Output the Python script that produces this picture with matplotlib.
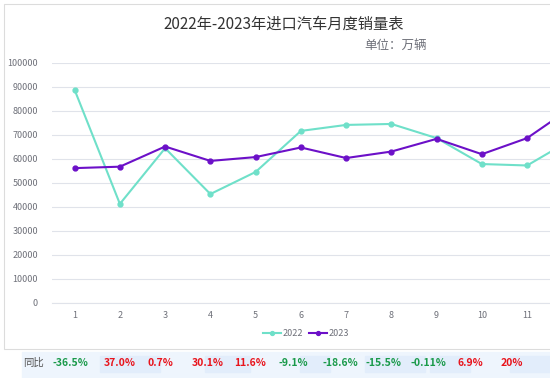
import matplotlib.pyplot as plt
import matplotlib.patches as patches

plt.rcParams['font.family'] = ['Noto Sans CJK SC', 'DejaVu Sans']

months = [1, 2, 3, 4, 5, 6, 7, 8, 9, 10, 11, 12]
sales_2022 = [88800, 41300, 64500, 45400, 54600, 71700, 74200, 74600, 68700, 57900, 57300, 68300]
sales_2023 = [56200, 56800, 65200, 59200, 60800, 64800, 60400, 63100, 68400, 62000, 68700, 81700]
yoy_labels = ['-36.5%', '37.0%', '0.7%', '30.1%', '11.6%', '-9.1%', '-18.6%', '-15.5%', '-0.11%', '6.9%', '20%']
yoy_x = [70, 120, 160, 208, 250, 293, 340, 383, 428, 470, 512]

W, H = 550, 378
fig = plt.figure(figsize=(W / 100, H / 100), dpi=100)

def fx(px):
    return px / W

def fy(py):
    return 1 - py / H

# light blue strip behind the yoy row
fig.patches.append(patches.Rectangle((fx(22), fy(378)), fx(528), 26 / H,
                                     transform=fig.transFigure, color='#eef5fd', zorder=0))
for x0, w in [(100, 60), (205, 45), (300, 30), (365, 60), (430, 40), (510, 40)]:
    fig.patches.append(patches.Rectangle((fx(x0), fy(372)), fx(w), 16 / H,
                                         transform=fig.transFigure, color='#e2edfb', zorder=0))
# white chart card with grey frame
fig.patches.append(patches.Rectangle((fx(4), fy(349)), fx(600), 345 / H,
                                     transform=fig.transFigure, facecolor='white',
                                     edgecolor='#dcdcdc', lw=0.8, zorder=1))

# axes run past the right edge so month 12 is cut off like the reference
ax = fig.add_axes([fx(52), fy(303), fx(543), 240 / H])
ax.set_facecolor('none')
ax.set_zorder(2)

ax.plot(months, sales_2022, color='#6fe0c9', lw=1.5, marker='o', ms=3.5, label='2022', zorder=3)
ax.plot(months, sales_2023, color='#6c10c8', lw=1.5, marker='o', ms=3.5, label='2023', zorder=4)

ax.set_xlim(0.5, 12.5)
ax.set_ylim(0, 100000)
ax.set_yticks(range(0, 100001, 10000))
# month 12 falls outside the picture, so its label is left out
ax.set_xticks(months[:-1])
ax.grid(axis='y', color='#e0e3ea', lw=0.8)
ax.set_axisbelow(True)
for s in ['top', 'right', 'left']:
    ax.spines[s].set_visible(False)
ax.spines['bottom'].set_color('#e0e3ea')
ax.tick_params(axis='both', length=0, labelsize=6.5, colors='#6e7079')
ax.tick_params(axis='x', pad=6)
ax.tick_params(axis='y', pad=10)

leg = ax.legend(loc='center', ncol=2, frameon=False, fontsize=6.5, handlelength=2.0,
                handletextpad=0.2, columnspacing=0.6, markerscale=0.8)
leg.set_bbox_to_anchor((fx(306), fy(334)), transform=fig.transFigure)
for t in leg.get_texts():
    t.set_color('#6e7079')

fig.text(fx(284), fy(24), '2022年-2023年进口汽车月度销量表', ha='center', va='center',
         fontsize=11, color='#333333')
fig.text(fx(396), fy(45), '单位：万辆', ha='center', va='center', fontsize=9, color='#6e7079')

fig.text(fx(33), fy(363), '同比', ha='center', va='center', fontsize=7.5, color='#555555')
for x, lab in zip(yoy_x, yoy_labels):
    c = '#1a9a4a' if lab.startswith('-') else '#e8141c'
    fig.text(fx(x), fy(363), lab, ha='center', va='center', fontsize=7.5,
             color=c, fontweight='bold')

fig.savefig('out.png', dpi=100)
